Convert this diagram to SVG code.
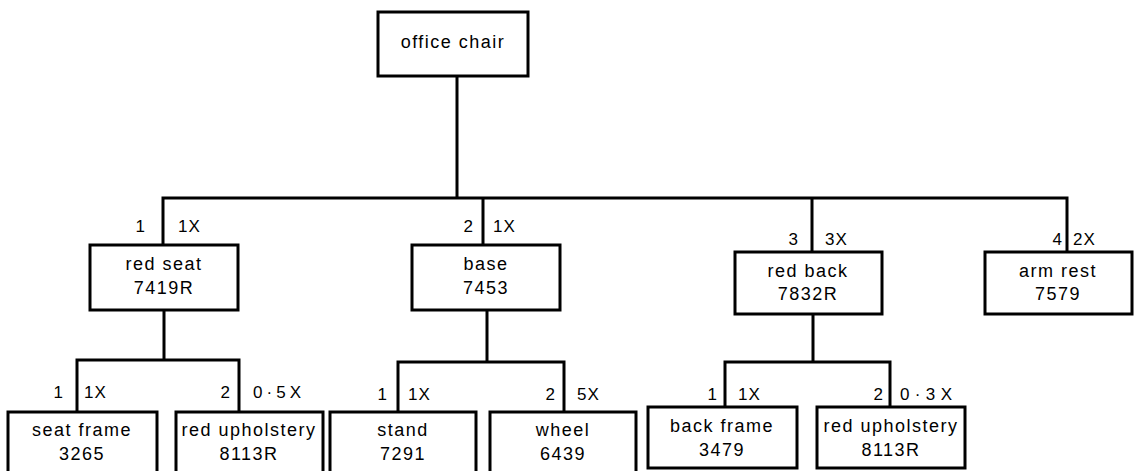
<svg xmlns="http://www.w3.org/2000/svg" width="1134" height="471" viewBox="0 0 1134 471">
<style>
.box{fill:#fff;stroke:#000;stroke-width:3}
.ln{fill:none;stroke:#000;stroke-width:3;stroke-linecap:square}
.t{font-family:"Liberation Sans",Arial,sans-serif;font-size:18px;letter-spacing:1.5px;text-anchor:middle;fill:#000}
.l{font-family:"Liberation Sans",Arial,sans-serif;font-size:17px;letter-spacing:1px;fill:#000}
.r{text-anchor:end}
</style>
<rect width="1134" height="471" fill="#fff"/>
<g id="connectors">
<path class="ln" d="M457 76V198M163 198H1067M163 198V245M483 198V245M812 198V252M1067 198V252"/>
<path class="ln" d="M164 310V360M77 360H239M77 360V412M239 360V412"/>
<path class="ln" d="M487 310V362M398 362H564M398 362V412M564 362V412"/>
<path class="ln" d="M813 314V362M725 362H890M725 362V407M890 362V407"/>
</g>
<g id="labels">
<text class="l r" x="146" y="232">1</text><text class="l" x="178" y="232">1X</text>
<text class="l r" x="474" y="232">2</text><text class="l" x="493" y="232">1X</text>
<text class="l r" x="799" y="245">3</text><text class="l" x="825" y="245">3X</text>
<text class="l r" x="1063" y="245">4</text><text class="l" x="1073" y="245">2X</text>
<text class="l r" x="64" y="398">1</text><text class="l" x="84" y="398">1X</text>
<text class="l r" x="231" y="398">2</text><text class="l" x="253" y="398" textLength="49" lengthAdjust="spacing">0·5X</text>
<text class="l r" x="388" y="400">1</text><text class="l" x="408" y="400">1X</text>
<text class="l r" x="556" y="400">2</text><text class="l" x="577" y="400">5X</text>
<text class="l r" x="718" y="400">1</text><text class="l" x="738" y="400">1X</text>
<text class="l r" x="884" y="400">2</text><text class="l" x="900" y="400" textLength="53" lengthAdjust="spacing">0·3X</text>
</g>
<g id="office-chair"><rect class="box" x="378" y="12" width="150" height="64"/><text class="t" x="453" y="48">office chair</text></g>
<g id="red-seat"><rect class="box" x="90" y="245" width="148" height="65"/><text class="t" x="164" y="270">red seat</text><text class="t" x="164" y="294">7419R</text></g>
<g id="base"><rect class="box" x="412" y="245" width="148" height="65"/><text class="t" x="486" y="270">base</text><text class="t" x="486" y="294">7453</text></g>
<g id="red-back"><rect class="box" x="735" y="252" width="147" height="62"/><text class="t" x="808" y="277">red back</text><text class="t" x="808" y="300">7832R</text></g>
<g id="arm-rest"><rect class="box" x="985" y="252" width="147" height="62"/><text class="t" x="1058" y="277">arm rest</text><text class="t" x="1058" y="300">7579</text></g>
<g id="seat-frame"><rect class="box" x="8" y="412" width="149" height="66"/><text class="t" x="82" y="436">seat frame</text><text class="t" x="82" y="460">3265</text></g>
<g id="red-upholstery-1"><rect class="box" x="176" y="412" width="147" height="66"/><text class="t" x="249" y="436">red upholstery</text><text class="t" x="249" y="460">8113R</text></g>
<g id="stand"><rect class="box" x="330" y="412" width="146" height="66"/><text class="t" x="403" y="436">stand</text><text class="t" x="403" y="460">7291</text></g>
<g id="wheel"><rect class="box" x="490" y="412" width="146" height="66"/><text class="t" x="563" y="436">wheel</text><text class="t" x="563" y="460">6439</text></g>
<g id="back-frame"><rect class="box" x="648" y="407" width="149" height="61"/><text class="t" x="722" y="432">back frame</text><text class="t" x="722" y="456">3479</text></g>
<g id="red-upholstery-2"><rect class="box" x="817" y="407" width="148" height="61"/><text class="t" x="891" y="432">red upholstery</text><text class="t" x="891" y="456">8113R</text></g>
</svg>
